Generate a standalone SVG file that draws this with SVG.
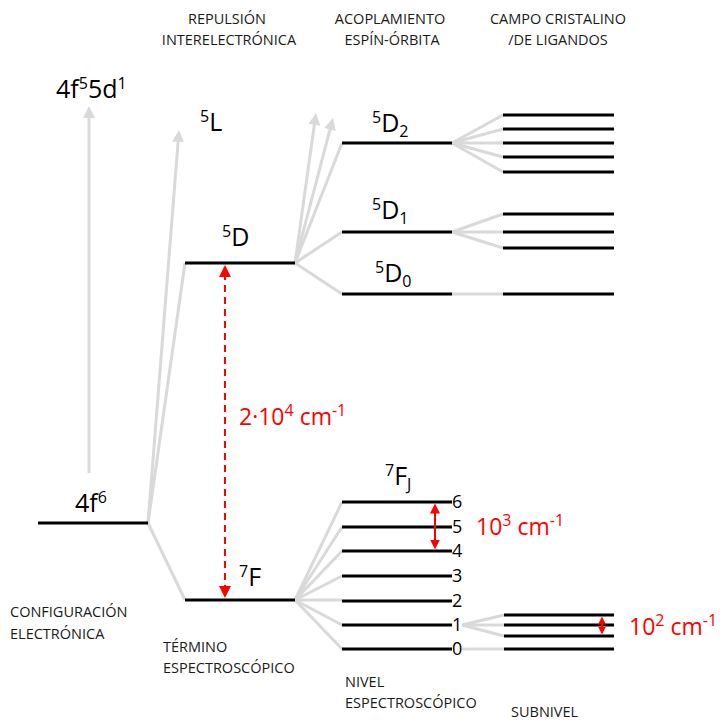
<svg xmlns="http://www.w3.org/2000/svg" width="720" height="721" viewBox="0 0 720 721">
  <style>
    .lvl { stroke: #000; stroke-width: 3; fill: none; }
    .con { stroke: #d9d9d9; stroke-width: 3; fill: none; }
    .head { font-family: "Open Sans", "Liberation Sans", sans-serif; font-size: 14.5px; fill: #1a1a1a; text-anchor: middle; }
    .cap { font-family: "Open Sans", "Liberation Sans", sans-serif; font-size: 14.5px; fill: #1a1a1a; }
    .term { font-family: "Open Sans", "Liberation Sans", sans-serif; font-size: 25px; fill: #000; }
    .num { font-family: "Open Sans", "Liberation Sans", sans-serif; font-size: 18px; fill: #000; }
    .red { font-family: "Open Sans", "Liberation Sans", sans-serif; font-size: 23px; fill: #ff0000; }
    .sup { font-size: 16px; }
    .redline { stroke: #ff0000; stroke-width: 2; fill: none; }
  </style>
  <defs>
    <marker id="grayHead" viewBox="0 0 12 12" refX="4" refY="6" markerWidth="12" markerHeight="12" markerUnits="userSpaceOnUse" orient="auto">
      <path d="M0,0 L12,6 L0,12 z" fill="#d9d9d9"/>
    </marker>
    <marker id="redHead" viewBox="0 0 12 12" refX="4" refY="6" markerWidth="12" markerHeight="12" markerUnits="userSpaceOnUse" orient="auto-start-reverse">
      <path d="M0,0 L12,6 L0,12 z" fill="#ff0000"/>
    </marker>
    <marker id="redHeadMid" viewBox="0 0 10 10" refX="3" refY="5" markerWidth="10" markerHeight="10" markerUnits="userSpaceOnUse" orient="auto-start-reverse">
      <path d="M0,0 L10,5 L0,10 z" fill="#ff0000"/>
    </marker>
    <marker id="redHeadSmall" viewBox="0 0 8 8" refX="3" refY="4" markerWidth="8" markerHeight="8" markerUnits="userSpaceOnUse" orient="auto-start-reverse">
      <path d="M0,0 L8,4 L0,8 z" fill="#ff0000"/>
    </marker>
  </defs>

  <!-- column headings -->
  <g id="headings">
    <text class="head" x="227" y="24">REPULSIÓN</text>
    <text class="head" x="229" y="45">INTERELECTRÓNICA</text>
    <text class="head" x="390" y="24">ACOPLAMIENTO</text>
    <text class="head" x="392" y="45">ESPÍN-ÓRBITA</text>
    <text class="head" x="558" y="24">CAMPO CRISTALINO</text>
    <text class="head" x="558" y="45">/DE LIGANDOS</text>
  </g>

  <!-- grey connectors between levels -->
  <g id="connectors">
    <!-- excited configuration / higher terms -->
    <line class="con" x1="89" y1="473" x2="89" y2="114" marker-end="url(#grayHead)"/>
    <line class="con" x1="148" y1="523" x2="178.4" y2="138" marker-end="url(#grayHead)"/>
    <line class="con" x1="148" y1="523" x2="185" y2="263"/>
    <line class="con" x1="148" y1="523" x2="185" y2="600"/>
    <!-- 5D splitting -->
    <line class="con" x1="295" y1="263" x2="314.9" y2="120.9" marker-end="url(#grayHead)"/>
    <line class="con" x1="295" y1="263" x2="331" y2="125.7" marker-end="url(#grayHead)"/>
    <line class="con" x1="295" y1="263" x2="342" y2="143"/>
    <line class="con" x1="295" y1="263" x2="342" y2="232"/>
    <line class="con" x1="295" y1="263" x2="342" y2="294"/>
    <!-- 5D2 crystal field -->
    <line class="con" x1="452" y1="143" x2="503" y2="115"/>
    <line class="con" x1="452" y1="143" x2="503" y2="129"/>
    <line class="con" x1="452" y1="143" x2="503" y2="143"/>
    <line class="con" x1="452" y1="143" x2="503" y2="157"/>
    <line class="con" x1="452" y1="143" x2="503" y2="172"/>
    <!-- 5D1 crystal field -->
    <line class="con" x1="452" y1="232" x2="503" y2="214"/>
    <line class="con" x1="452" y1="232" x2="503" y2="232"/>
    <line class="con" x1="452" y1="232" x2="503" y2="248"/>
    <!-- 5D0 -->
    <line class="con" x1="452" y1="294" x2="503" y2="294"/>
    <!-- 7F splitting -->
    <line class="con" x1="295" y1="600" x2="342" y2="502"/>
    <line class="con" x1="295" y1="600" x2="342" y2="527"/>
    <line class="con" x1="295" y1="600" x2="342" y2="551"/>
    <line class="con" x1="295" y1="600" x2="342" y2="576"/>
    <line class="con" x1="295" y1="600" x2="342" y2="600"/>
    <line class="con" x1="295" y1="600" x2="342" y2="625"/>
    <line class="con" x1="295" y1="600" x2="342" y2="649"/>
    <!-- 7F1 / 7F0 crystal field -->
    <line class="con" x1="462" y1="625" x2="504" y2="615"/>
    <line class="con" x1="462" y1="625" x2="504" y2="625"/>
    <line class="con" x1="462" y1="625" x2="504" y2="636"/>
    <line class="con" x1="462" y1="649" x2="504" y2="649"/>
  </g>

  <!-- electron configurations -->
  <g id="cfg-4f6">
    <line class="lvl" x1="38" y1="523" x2="148" y2="523"/>
    <text class="term" x="75" y="512">4f<tspan class="sup" dy="-9">6</tspan></text>
  </g>
  <g id="cfg-4f55d1">
    <text class="term" x="56" y="98">4f<tspan class="sup" dy="-9">5</tspan><tspan dy="9">5d</tspan><tspan class="sup" dy="-9">1</tspan></text>
  </g>

  <!-- spectroscopic terms -->
  <g id="term-5L">
    <text class="term" x="200" y="131"><tspan class="sup" dy="-9">5</tspan><tspan dy="9">L</tspan></text>
  </g>
  <g id="term-5D">
    <line class="lvl" x1="185" y1="263" x2="295" y2="263"/>
    <text class="term" x="222" y="246"><tspan class="sup" dy="-9">5</tspan><tspan dy="9">D</tspan></text>
  </g>
  <g id="term-7F">
    <line class="lvl" x1="185" y1="600" x2="295" y2="600"/>
    <text class="term" x="239" y="586"><tspan class="sup" dy="-9">7</tspan><tspan dy="9">F</tspan></text>
  </g>

  <!-- 5D_J levels -->
  <g id="level-5D2">
    <line class="lvl" x1="342" y1="143" x2="452" y2="143"/>
    <text class="term" x="372" y="132"><tspan class="sup" dy="-9">5</tspan><tspan dy="9">D</tspan><tspan class="sup" dy="5">2</tspan></text>
  </g>
  <g id="level-5D1">
    <line class="lvl" x1="342" y1="232" x2="452" y2="232"/>
    <text class="term" x="372" y="219"><tspan class="sup" dy="-9">5</tspan><tspan dy="9">D</tspan><tspan class="sup" dy="5">1</tspan></text>
  </g>
  <g id="level-5D0">
    <line class="lvl" x1="342" y1="294" x2="452" y2="294"/>
    <text class="term" x="375" y="282"><tspan class="sup" dy="-9">5</tspan><tspan dy="9">D</tspan><tspan class="sup" dy="5">0</tspan></text>
  </g>

  <!-- 7F_J levels -->
  <g id="level-7FJ">
    <text class="term" x="385" y="485"><tspan class="sup" dy="-9">7</tspan><tspan dy="9">F</tspan><tspan class="sup" dy="5">J</tspan></text>
    <line class="lvl" x1="342" y1="502" x2="452" y2="502"/>
    <line class="lvl" x1="342" y1="527" x2="452" y2="527"/>
    <line class="lvl" x1="342" y1="551" x2="452" y2="551"/>
    <line class="lvl" x1="342" y1="576" x2="452" y2="576"/>
    <line class="lvl" x1="342" y1="601" x2="452" y2="601"/>
    <line class="lvl" x1="342" y1="625" x2="452" y2="625"/>
    <line class="lvl" x1="342" y1="649" x2="452" y2="649"/>
    <text class="num" x="452" y="508">6</text>
    <text class="num" x="452" y="533">5</text>
    <text class="num" x="452" y="557">4</text>
    <text class="num" x="452" y="582">3</text>
    <text class="num" x="452" y="607">2</text>
    <text class="num" x="452" y="631">1</text>
    <text class="num" x="452" y="655">0</text>
  </g>

  <!-- crystal-field sublevels -->
  <g id="sublevels-5D2">
    <line class="lvl" x1="503" y1="115" x2="614" y2="115"/>
    <line class="lvl" x1="503" y1="129" x2="614" y2="129"/>
    <line class="lvl" x1="503" y1="143" x2="614" y2="143"/>
    <line class="lvl" x1="503" y1="157" x2="614" y2="157"/>
    <line class="lvl" x1="503" y1="172" x2="614" y2="172"/>
  </g>
  <g id="sublevels-5D1">
    <line class="lvl" x1="503" y1="214" x2="614" y2="214"/>
    <line class="lvl" x1="503" y1="232" x2="614" y2="232"/>
    <line class="lvl" x1="503" y1="248" x2="614" y2="248"/>
  </g>
  <g id="sublevels-5D0">
    <line class="lvl" x1="503" y1="294" x2="614" y2="294"/>
  </g>
  <g id="sublevels-7F1">
    <line class="lvl" x1="504" y1="615" x2="614" y2="615"/>
    <line class="lvl" x1="504" y1="625" x2="614" y2="625"/>
    <line class="lvl" x1="504" y1="636" x2="614" y2="636"/>
  </g>
  <g id="sublevels-7F0">
    <line class="lvl" x1="504" y1="649" x2="614" y2="649"/>
  </g>

  <!-- energy scale arrows -->
  <g id="gap-term">
    <line class="redline" x1="225" y1="273" x2="225" y2="590" stroke-dasharray="7,5" marker-start="url(#redHead)" marker-end="url(#redHead)"/>
    <text class="red" x="239" y="425">2·10<tspan class="sup" dy="-9">4</tspan><tspan dy="9"> cm</tspan><tspan class="sup" dy="-9">-1</tspan></text>
  </g>
  <g id="gap-level">
    <line class="redline" x1="435" y1="510.5" x2="435" y2="542.5" marker-start="url(#redHeadMid)" marker-end="url(#redHeadMid)"/>
    <text class="red" x="476" y="535">10<tspan class="sup" dy="-9">3</tspan><tspan dy="9"> cm</tspan><tspan class="sup" dy="-9">-1</tspan></text>
  </g>
  <g id="gap-sublevel">
    <line class="redline" x1="602" y1="621.5" x2="602" y2="629.5" marker-start="url(#redHeadSmall)" marker-end="url(#redHeadSmall)"/>
    <text class="red" x="629" y="635">10<tspan class="sup" dy="-9">2</tspan><tspan dy="9"> cm</tspan><tspan class="sup" dy="-9">-1</tspan></text>
  </g>

  <!-- bottom captions -->
  <g id="captions">
    <text class="cap" x="10" y="617">CONFIGURACIÓN</text>
    <text class="cap" x="10" y="639">ELECTRÓNICA</text>
    <text class="cap" x="163" y="652">TÉRMINO</text>
    <text class="cap" x="163" y="673">ESPECTROSCÓPICO</text>
    <text class="cap" x="345" y="687">NIVEL</text>
    <text class="cap" x="345" y="708">ESPECTROSCÓPICO</text>
    <text class="cap" x="511" y="717">SUBNIVEL</text>
  </g>
</svg>
